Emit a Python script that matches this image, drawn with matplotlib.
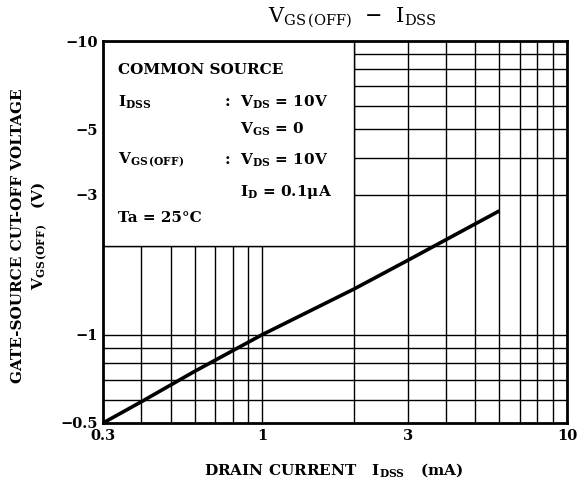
# encoding: utf-8

import numpy as np
import matplotlib
matplotlib.use("Agg")
import matplotlib.pyplot as plt
from matplotlib.patches import Rectangle

plt.rcParams['font.family'] = ['DejaVu Serif']
plt.rcParams['mathtext.fontset'] = 'dejavuserif'

# curve: IDSS (mA) vs |VGS(OFF)| (V)
idss = [0.3, 0.4, 0.6, 1.0, 2.0, 3.0, 6.0]
vgs_off = [0.5, 0.59, 0.75, 1.0, 1.43, 1.79, 2.64]

x_ticks = [0.3, 1, 3, 10]
x_labels = ["0.3", "1", "3", "10"]
y_ticks = [0.5, 1, 3, 5, 10]
y_labels = ["\u22120.5", "\u22121", "\u22123", "\u22125", "\u221210"]

x_grid = [0.4, 0.5, 0.6, 0.7, 0.8, 0.9, 1, 2, 3, 4, 5, 6, 7, 8, 9]
y_grid = [0.6, 0.7, 0.8, 0.9, 1, 2, 3, 4, 5, 6, 7, 8, 9]

fig = plt.figure(figsize=(5.8, 4.93), dpi=100)
ax = fig.add_axes([0.1776, 0.142, 0.80, 0.7748])
ax.set_xscale('log')
ax.set_yscale('log')
ax.set_xlim(0.3, 10)
ax.set_ylim(0.5, 10)

for x in x_grid:
    ax.axvline(x, color='black', lw=1.0, zorder=1)
for y in y_grid:
    ax.axhline(y, color='black', lw=1.0, zorder=1)

# condition box covering the upper left of the grid
ax.add_patch(Rectangle((0.3, 2), 1.7, 8, facecolor='white', edgecolor='black',
                       lw=1.0, zorder=2))

ax.plot(idss, vgs_off, color='black', lw=2.6, zorder=3, solid_capstyle='butt')

ax.set_xticks(x_ticks)
ax.set_xticklabels(x_labels)
ax.set_yticks(y_ticks)
ax.set_yticklabels(y_labels)
ax.minorticks_off()
ax.tick_params(length=0, labelsize=10.5, pad=4)
for lab in ax.get_xticklabels() + ax.get_yticklabels():
    lab.set_fontweight('bold')
for s in ax.spines.values():
    s.set_linewidth(2)
    s.set_zorder(4)

tk = dict(transform=fig.transFigure, fontsize=11, fontweight='bold', va='center')
fig.text(118 / 580, 1 - 70 / 493, "COMMON SOURCE", **tk)
fig.text(118 / 580, 1 - 102 / 493, r"$\mathbf{I_{DSS}}$", **tk)
fig.text(224 / 580, 1 - 102 / 493, r":  $\mathbf{V_{DS}}$ = 10V", **tk)
fig.text(240 / 580, 1 - 129 / 493, r"$\mathbf{V_{GS}}$ = 0", **tk)
fig.text(118 / 580, 1 - 160 / 493, r"$\mathbf{V_{GS\,(OFF)}}$", **tk)
fig.text(224 / 580, 1 - 160 / 493, r":  $\mathbf{V_{DS}}$ = 10V", **tk)
fig.text(240 / 580, 1 - 192 / 493, r"$\mathbf{I_D}$ = 0.1$\mathbf{\mu}$A", **tk)
fig.text(118 / 580, 1 - 218 / 493, "Ta = 25\u00b0C", **tk)

fig.text(352 / 580, 1 - 18 / 493, r"$\mathrm{V_{GS\,(OFF)}}$  " + "\u2212" + r"  $\mathrm{I_{DSS}}$",
         fontsize=15, ha='center', va='center')
fig.text(333 / 580, 1 - 470 / 493, r"DRAIN CURRENT   $\mathbf{I_{DSS}}$   (mA)",
         fontsize=11, fontweight='bold', ha='center', va='center')
fig.text(18 / 580, 1 - 236 / 493, "GATE-SOURCE CUT-OFF VOLTAGE",
         fontsize=11, fontweight='bold', ha='center', va='center', rotation=90)
fig.text(39 / 580, 1 - 236 / 493, r"$\mathbf{V_{GS\,(OFF)}}$   (V)",
         fontsize=11, fontweight='bold', ha='center', va='center', rotation=90)

fig.savefig("out.png", dpi=100)
